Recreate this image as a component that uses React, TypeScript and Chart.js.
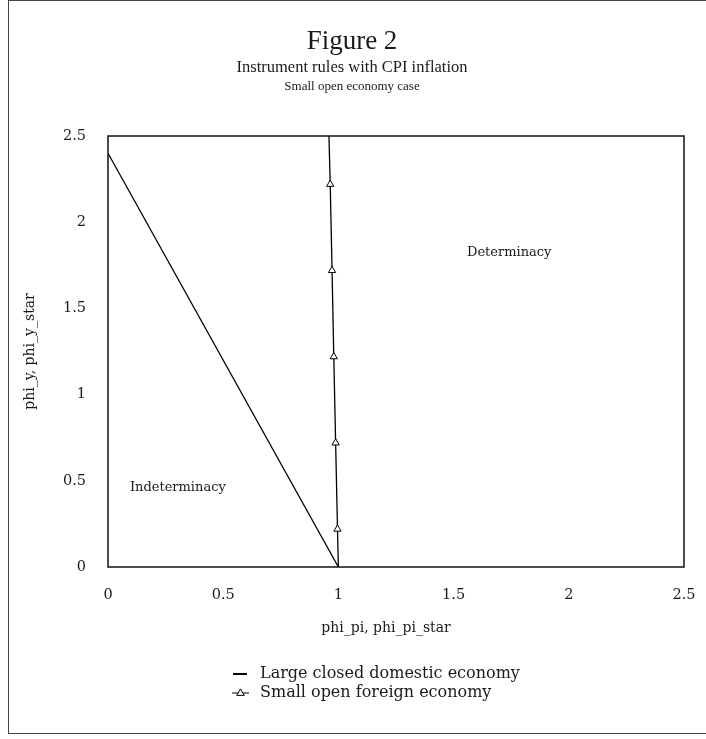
import React, { useEffect, useRef } from 'react';
import { Chart, registerables } from 'chart.js';

Chart.register(...registerables);

const titleLines = ['Figure 2', 'Instrument rules with CPI inflation', 'Small open economy case'];
const xAxisTitle = 'phi_pi, phi_pi_star';
const yAxisTitle = 'phi_y, phi_y_star';
const xTicks = [0, 0.5, 1, 1.5, 2, 2.5];
const yTicks = [0, 0.5, 1, 1.5, 2, 2.5];
const tickLabels = ['0', '0.5', '1', '1.5', '2', '2.5'];

const seriesNames = ['Large closed domestic economy', 'Small open foreign economy'];

// Large closed domestic economy
const closedX = [0, 1];
const closedY = [2.4, 0];

// Small open foreign economy
const openX = [1.0, 0.996, 0.988, 0.98, 0.9725, 0.9645, 0.959];
const openY = [0, 0.22, 0.72, 1.22, 1.72, 2.22, 2.5];
const openMarkers = [false, true, true, true, true, true, false];

const regionLabels = ['Indeterminacy', 'Determinacy'];
const regionX = [0.095, 1.558];
const regionY = [0.463, 1.823];

const SERIF_WIDE = '"DejaVu Serif", serif';
const SERIF_NARROW = '"Liberation Serif", serif';
const INK = '#1a1a1a';

const drawTriangle = (ctx: CanvasRenderingContext2D, cx: number, cy: number, r: number) => {
  ctx.beginPath();
  ctx.moveTo(cx, cy - r);
  ctx.lineTo(cx + r * 0.95, cy + r * 0.6);
  ctx.lineTo(cx - r * 0.95, cy + r * 0.6);
  ctx.closePath();
  ctx.fillStyle = '#fff';
  ctx.fill();
  ctx.stroke();
};

const decorPlugin = {
  id: 'decor',
  afterDraw(chart: any) {
    const { ctx, chartArea, scales } = chart;
    ctx.save();
    // plot frame
    ctx.strokeStyle = '#111';
    ctx.lineWidth = 1.5;
    ctx.strokeRect(chartArea.left, chartArea.top, chartArea.right - chartArea.left, chartArea.bottom - chartArea.top);

    // titles
    const cx = 343;
    ctx.fillStyle = INK;
    ctx.textAlign = 'center';
    ctx.textBaseline = 'middle';
    ctx.font = `27px ${SERIF_NARROW}`;
    ctx.fillText(titleLines[0], cx, 41);
    ctx.font = `16.5px ${SERIF_NARROW}`;
    ctx.fillText(titleLines[1], cx, 67);
    ctx.font = `13px ${SERIF_NARROW}`;
    ctx.fillText(titleLines[2], cx, 86);

    // x axis title
    ctx.font = `14px ${SERIF_WIDE}`;
    ctx.fillText(xAxisTitle, 377, 627);

    // region labels
    ctx.textAlign = 'left';
    ctx.font = `13px ${SERIF_WIDE}`;
    regionLabels.forEach((t, i) => {
      ctx.fillText(t, scales.x.getPixelForValue(regionX[i]), scales.y.getPixelForValue(regionY[i]));
    });

    // legend
    const lx0 = 224;
    const lx1 = 238;
    const tx = 251;
    const ly = [673, 692];
    ctx.font = `16px ${SERIF_WIDE}`;
    ctx.strokeStyle = '#000';
    ctx.lineWidth = 2;
    ctx.beginPath();
    ctx.moveTo(lx0, ly[0]);
    ctx.lineTo(lx1, ly[0]);
    ctx.stroke();
    ctx.fillStyle = INK;
    ctx.fillText(seriesNames[0], tx, ly[0]);
    ctx.lineWidth = 1;
    ctx.beginPath();
    ctx.moveTo(lx0 - 1, ly[1]);
    ctx.lineTo(lx1 + 2, ly[1]);
    ctx.stroke();
    drawTriangle(ctx, (lx0 + lx1) / 2 + 0.5, ly[1], 4);
    ctx.fillStyle = INK;
    ctx.fillText(seriesNames[1], tx, ly[1]);
    ctx.restore();
  },
};

export default function App() {
  const ref = useRef<HTMLCanvasElement | null>(null);

  useEffect(() => {
    if (!ref.current) return;
    const tickFont = { family: SERIF_WIDE, size: 14.5 };
    const fmt = (v: any) => {
      const i = xTicks.indexOf(Number(v));
      return i >= 0 ? tickLabels[i] : String(v);
    };
    const chart = new Chart(ref.current, {
      type: 'scatter',
      data: {
        datasets: [
          {
            label: seriesNames[0],
            data: closedX.map((x, i) => ({ x, y: closedY[i] })),
            showLine: true,
            borderColor: '#000',
            borderWidth: 1.3,
            pointRadius: 0,
          },
          {
            label: seriesNames[1],
            data: openX.map((x, i) => ({ x, y: openY[i] })),
            showLine: true,
            borderColor: '#000',
            borderWidth: 1.3,
            pointStyle: 'triangle',
            pointRadius: openMarkers.map((m) => (m ? 4.2 : 0)),
            pointBackgroundColor: '#fff',
            pointBorderColor: '#000',
            pointBorderWidth: 1,
          },
        ],
      },
      options: {
        responsive: false,
        animation: false,
        layout: { padding: { top: 135, right: 22, left: 0, bottom: 0 } },
        plugins: {
          legend: { display: false },
          tooltip: { enabled: false },
          title: { display: false },
        },
        scales: {
          x: {
            type: 'linear',
            min: 0,
            max: 2.5,
            afterBuildTicks: (s: any) => {
              s.ticks = xTicks.map((v) => ({ value: v }));
            },
            afterFit: (s: any) => {
              s.height = 166;
              s.paddingLeft = 0;
              s.paddingRight = 0;
            },
            grid: { display: false, drawTicks: false },
            border: { display: false },
            ticks: { font: tickFont, color: INK, padding: 20, maxRotation: 0, callback: fmt },
          },
          y: {
            type: 'linear',
            min: 0,
            max: 2.5,
            afterBuildTicks: (s: any) => {
              s.ticks = yTicks.map((v) => ({ value: v }));
            },
            afterFit: (s: any) => {
              s.width = 99;
              s.paddingTop = 0;
              s.paddingBottom = 0;
            },
            grid: { display: false, drawTicks: false },
            border: { display: false },
            ticks: { font: tickFont, color: INK, padding: 22, callback: fmt },
            title: {
              display: true,
              text: yAxisTitle,
              color: INK,
              font: { family: SERIF_WIDE, size: 14 },
              padding: { top: 13, bottom: 0 },
            },
          },
        },
      },
      plugins: [decorPlugin],
    } as any);
    return () => chart.destroy();
  }, []);

  return (
    <div
      style={{
        position: 'absolute',
        left: 8,
        top: 0,
        width: 698,
        height: 734,
        boxSizing: 'border-box',
        borderLeft: '1px solid #444',
        borderTop: '1px solid #444',
        borderBottom: '1px solid #444',
        background: '#fff',
      }}
    >
      <canvas ref={ref} width={697} height={732} style={{ display: 'block' }} />
    </div>
  );
}
